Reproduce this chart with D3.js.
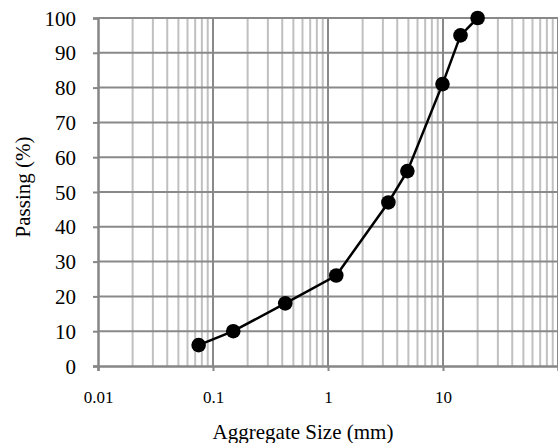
<!DOCTYPE html>
<html>
	<head>
		<meta charset="utf-8">
		<script src="https://d3js.org/d3.v7.min.js"></script>
		<style>
			body { margin: 0; background: #fff; }
			text { font-family: "Liberation Serif", "Times New Roman", serif; fill: #000; }
		</style>
	</head>
	<body>
		<div id="chart"></div>
		<script>
			//Sieve data: size (mm) and percent passing
			var sizes = [0.075, 0.15, 0.425, 1.18, 3.35, 4.9, 9.9, 14.2, 20];
			var passing = [6, 10, 18, 26, 47, 56, 81, 95, 100];

			var xTicks = [0.01, 0.1, 1, 10];
			var yTicks = [0, 10, 20, 30, 40, 50, 60, 70, 80, 90, 100];

			var width = 558, height = 443;
			var plotLeft = 98, plotRight = 558, plotTop = 18, plotBottom = 366;

			var svg = d3.select("#chart").append("svg")
						.attr("width", width)
						.attr("height", height);

			var x = d3.scaleLog().domain([0.01, 100]).range([plotLeft, plotRight]);
			var y = d3.scaleLinear().domain([0, 100]).range([plotBottom, plotTop]);

			//Minor vertical grid (2..9 in each decade)
			var minor = [];
			[0.01, 0.1, 1, 10].forEach(function(d){
				for(var k = 2; k <= 9; k++) minor.push(d * k);
			});
			svg.append("g").selectAll("line").data(minor).enter()
				.append("line")
				.attr("x1", function(d){ return x(d); })
				.attr("x2", function(d){ return x(d); })
				.attr("y1", plotTop).attr("y2", plotBottom)
				.attr("stroke", "#c0c0c0").attr("stroke-width", 2);

			//Major vertical grid
			svg.append("g").selectAll("line").data([0.1, 1, 10, 100]).enter()
				.append("line")
				.attr("x1", function(d){ return x(d); })
				.attr("x2", function(d){ return x(d); })
				.attr("y1", plotTop).attr("y2", plotBottom)
				.attr("stroke", "#898989").attr("stroke-width", 2);

			//Horizontal grid
			svg.append("g").selectAll("line").data(yTicks.slice(1)).enter()
				.append("line")
				.attr("x1", plotLeft).attr("x2", plotRight)
				.attr("y1", function(d){ return y(d); })
				.attr("y2", function(d){ return y(d); })
				.attr("stroke", "#898989").attr("stroke-width", 2);

			//Axes
			var xAxis = svg.append("g")
				.attr("transform", "translate(0," + plotBottom + ")")
				.call(d3.axisBottom(x).tickValues(xTicks).tickSize(5).tickPadding(20)
					.tickFormat(function(d){ return String(d); }));
			var yAxis = svg.append("g")
				.attr("transform", "translate(" + plotLeft + ",0)")
				.call(d3.axisLeft(y).tickValues(yTicks).tickSize(5).tickPadding(17));

			[xAxis, yAxis].forEach(function(a){
				a.attr("font-family", "Liberation Serif");
				a.select(".domain").attr("stroke", "#868686").attr("stroke-width", 2.5);
				a.selectAll(".tick line").attr("stroke", "#868686").attr("stroke-width", 2);
				a.selectAll("text").style("font-family", "'Liberation Serif', serif").attr("fill", "#000");
			});
			xAxis.selectAll("text").style("font-size", "17px");
			yAxis.selectAll("text").style("font-size", "21px").attr("dy", "0.34em");

			//Curve
			var pts = sizes.map(function(d, i){ return [d, passing[i]]; });
			svg.append("path")
				.datum(pts)
				.attr("fill", "none")
				.attr("stroke", "#000")
				.attr("stroke-width", 2.5)
				.attr("d", d3.line().x(function(d){ return x(d[0]); }).y(function(d){ return y(d[1]); }));

			svg.append("g").selectAll("circle").data(pts).enter()
				.append("circle")
				.attr("cx", function(d){ return x(d[0]); })
				.attr("cy", function(d){ return y(d[1]); })
				.attr("r", 7.3)
				.attr("fill", "#000");

			//Axis titles
			svg.append("text")
				.attr("x", 303).attr("y", 439)
				.attr("text-anchor", "middle")
				.style("font-size", "21px")
				.text("Aggregate Size (mm)");

			svg.append("text")
				.attr("transform", "translate(30,187) rotate(-90)")
				.attr("text-anchor", "middle")
				.style("font-size", "21px")
				.text("Passing (%)");
		</script>
	</body>
</html>
